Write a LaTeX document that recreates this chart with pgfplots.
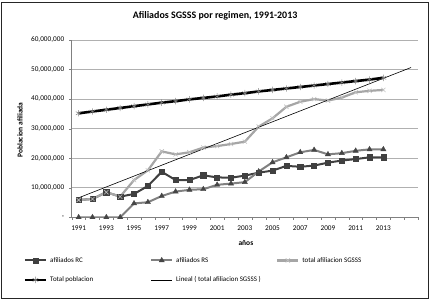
\documentclass[border=0pt]{standalone}
\usepackage{fontspec}
\setmainfont{Carlito}
\usepackage{pgfplots}
\pgfplotsset{compat=1.18}
\definecolor{rcc}{HTML}{404040}
\definecolor{rsc}{HTML}{808080}
\definecolor{rsm}{HTML}{454545}
\definecolor{tsc}{HTML}{A6A6A6}
\definecolor{tsm}{HTML}{C0C0C0}
\definecolor{gridc}{HTML}{B0B0B0}
\begin{document}
\begin{tikzpicture}
\useasboundingbox (0,0) rectangle (432bp,301bp);
\draw[line width=1bp, black!85] (1.5bp,2.7bp) rectangle (428bp,298.5bp);
\begin{axis}[
  at={(71.7bp,83.7bp)}, anchor=south west,
  scale only axis, width=346.3bp, height=177.3bp,
  xmin=1990.5, xmax=2015.5, ymin=0, ymax=60,
  axis lines=left,
  axis line style={-, draw=gray, line width=0.6bp},
  ytick={0,10,...,60},
  yticklabels={-,{10,000,000},{20,000,000},{30,000,000},{40,000,000},{50,000,000},{60,000,000}},
  xtick={1991,1993,...,2013},
  xticklabels={1991,1993,1995,1997,1999,2001,2003,2005,2007,2009,2011,2013},
  minor xtick={1990.5,1991.5,...,2015.5},
  major tick length=2.5bp, minor tick length=2.5bp,
  tick style={draw=gray},
  major x tick style={draw=none},
  minor x tick style={draw=gray},
  tick align=outside,
  ymajorgrids, grid style={draw=gridc, line width=0.6bp},
  tick label style={font=\fontsize{7.3}{8}\selectfont},
  yticklabel style={xshift=-1.5bp},
  xticklabel style={yshift=-2bp},
  title={\textbf{Afiliados SGSSS por regimen, 1991-2013}},
  title style={at={(axis description cs:0.414,1.124)}, anchor=center, yshift=-4bp, font=\fontsize{10}{12}\selectfont},
  ylabel={\textbf{Poblacion afiliada}},
  ylabel style={at={(axis description cs:-0.149,0.492)}, anchor=center, font=\fontsize{7.5}{9}\selectfont},
  xlabel={\textbf{años}},
  xlabel style={at={(axis description cs:0.503,-0.145)}, anchor=center, font=\fontsize{7.5}{9}\selectfont},
  legend columns=3,
  legend style={at={(axis description cs:-0.148,-0.213)}, anchor=north west, draw=none,
    font=\fontsize{7}{8}\selectfont, nodes={inner sep=0pt}, row sep=13bp,
    /tikz/every odd column/.append style={column sep=3bp},
    /tikz/every even column/.append style={column sep=3bp}},
  legend cell align=left,
  legend image code/.code={\draw[mark repeat=2,mark phase=2] plot coordinates {(0bp,0bp) (10.5bp,0bp) (21bp,0bp)};},
]
\addplot[draw=rcc, line width=2bp, mark=square*, mark size=2.6bp, mark options={fill=rcc, draw=rcc, line width=0.5bp}] coordinates {
(1991,5.85) (1992,6.2) (1993,8.5) (1994,7.0) (1995,7.9) (1996,10.6) (1997,15.4) (1998,12.6) (1999,12.6) (2000,14.2) (2001,13.5) (2002,13.4) (2003,14.1) (2004,15.1) (2005,15.8) (2006,17.4) (2007,17.1) (2008,17.5) (2009,18.5) (2010,19.2) (2011,19.7) (2012,20.3) (2013,20.3)};
\addlegendentry{\makebox[97bp][l]{afiliados RC}}
\addplot[draw=rsc, line width=2bp, mark=triangle*, mark size=3bp, mark options={fill=rsm, draw=rsm, line width=0.4bp}] coordinates {
(1991,0) (1992,0) (1993,0) (1994,0) (1995,4.7) (1996,5.1) (1997,7.2) (1998,8.7) (1999,9.3) (2000,9.5) (2001,11.0) (2002,11.4) (2003,11.9) (2004,15.5) (2005,18.6) (2006,20.3) (2007,22.0) (2008,22.8) (2009,21.3) (2010,21.7) (2011,22.5) (2012,23.0) (2013,23.0)};
\addlegendentry{\makebox[97bp][l]{afiliados RS}}
\addplot[draw=tsc, line width=2.2bp, mark=x, mark size=3bp, mark options={draw=tsm, line width=0.6bp}] coordinates {
(1991,5.85) (1992,6.2) (1993,8.5) (1994,7.0) (1995,12.6) (1996,15.9) (1997,22.3) (1998,21.3) (1999,22.0) (2000,23.6) (2001,24.1) (2002,24.8) (2003,25.6) (2004,30.7) (2005,33.5) (2006,37.4) (2007,39.1) (2008,40.0) (2009,39.5) (2010,40.5) (2011,42.3) (2012,42.8) (2013,43.1)};
\addlegendentry{\makebox[97bp][l]{total afiliacion SGSSS}}
\addplot[draw=black, line width=2.6bp, mark=asterisk, mark size=3.2bp, mark options={draw=gray, line width=0.5bp}] coordinates {
(1991,35.2) (1992,35.8) (1993,36.4) (1994,37.0) (1995,37.6) (1996,38.2) (1997,38.8) (1998,39.3) (1999,39.9) (2000,40.4) (2001,40.9) (2002,41.5) (2003,42.0) (2004,42.6) (2005,43.1) (2006,43.6) (2007,44.1) (2008,44.6) (2009,45.1) (2010,45.6) (2011,46.1) (2012,46.6) (2013,47.2)};
\addlegendentry{\makebox[97bp][l]{Total poblacion}}
\addplot[draw=black, line width=0.6bp, mark=none] coordinates {(1991,6.6) (2015,50.7)};
\addlegendentry{\makebox[97bp][l]{Lineal ( total afiliacion SGSSS )}}
\end{axis}
\end{tikzpicture}
\end{document}
